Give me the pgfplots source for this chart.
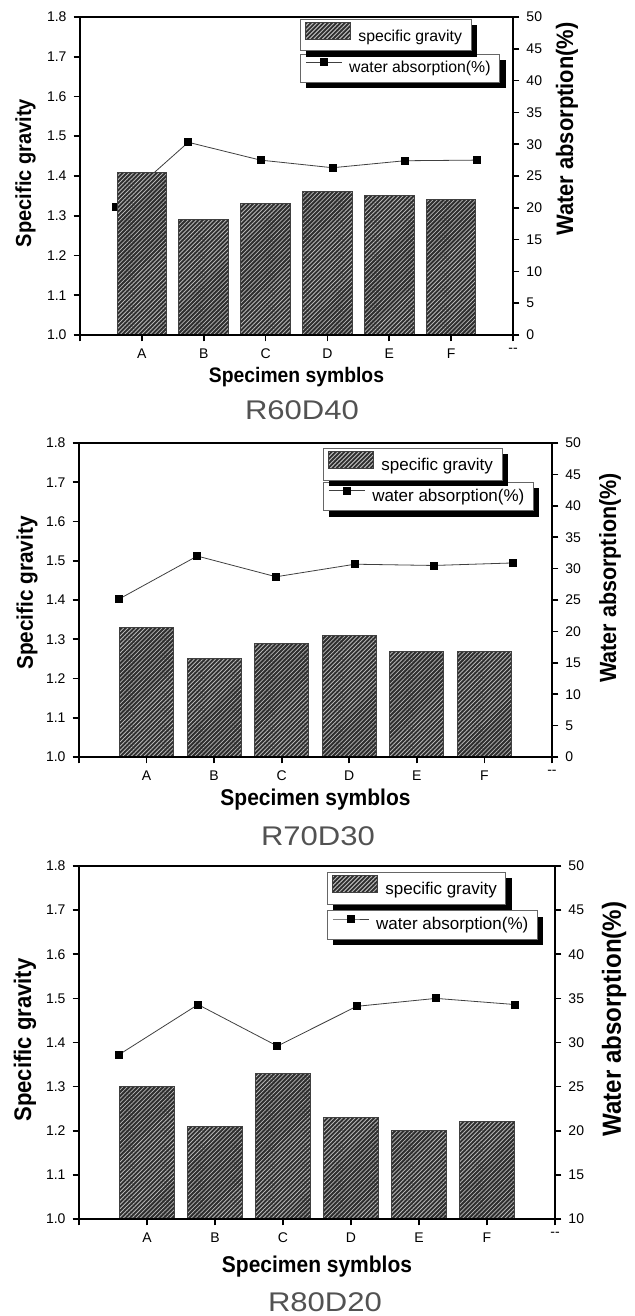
\documentclass[border=0pt]{standalone}
\usepackage{fontspec}
\setmainfont{Liberation Sans}
\newfontfamily\labelfont[FakeStretch=0.92]{Liberation Sans}
\newfontfamily\rfont[FakeStretch=1.15]{Liberation Sans}
\usepackage{pgfplots}
\pgfplotsset{compat=1.18}
\usepackage{pgfplotstable}
\usetikzlibrary{patterns.meta,shadows}

\definecolor{rlabel}{gray}{0.32}

% the legend's drop shadow must not be copied onto the legend images
\makeatletter
\tikzset{no preaction/.code={\let\tikz@preactions\pgfutil@empty}}
\makeatother

% idx = bar position, pos = where the absorption marker sits
\pgfplotstableread{
idx pos sg wa
0 -0.4167 1.41 20.2
1 0.7500 1.29 30.3
2 1.9167 1.33 27.5
3 3.0833 1.36 26.3
4 4.2500 1.35 27.4
5 5.4167 1.34 27.5
}\rsixty

\pgfplotstableread{
idx pos sg wa
0 -0.4167 1.33 25.1
1 0.7500 1.25 32.0
2 1.9167 1.29 28.7
3 3.0833 1.31 30.7
4 4.2500 1.27 30.5
5 5.4167 1.27 30.9
}\rseventy

\pgfplotstableread{
idx pos sg wa
0 -0.4167 1.30 28.6
1 0.7500 1.21 34.3
2 1.9167 1.33 29.6
3 3.0833 1.23 34.1
4 4.2500 1.20 35.0
5 5.4167 1.22 34.3
}\reighty

\tikzset{
  hatch/.style={draw=black!75, line width=0.5pt, fill=black!82,
    postaction={pattern color=white!72!black, pattern={Lines[angle=45,distance=1.5pt,line width=0.4pt]}}},
  axlabel/.style={font=\labelfont\bfseries\fontsize{#1}{14}\selectfont},
  panelname/.style={font=\rfont\fontsize{13.5}{16}\selectfont, text=rlabel},
}

\pgfplotsset{
  common/.style={scale only axis, xmin=-1, xmax=6, tick align=outside,
    major tick length=3.2pt,
    axis line style={line width=0.9pt},
    major tick style={line width=0.8pt, black},
    tick label style={font=\fontsize{7}{8}\selectfont},
    /pgf/number format/assume math mode=true,
    legend cell align=left,
    legend style={anchor=north west, draw=black!60, line width=0.4pt, fill=white,
      inner xsep=2.5pt, inner ysep=1.3pt,
      drop shadow={shadow xshift=3pt, shadow yshift=-3pt, fill=black, opacity=1},
      /tikz/every odd column/.append style={column sep=1.5pt}},
  },
  waaxis/.style={common, axis y line*=right, axis x line=none,
    legend image code/.code={\draw[no preaction, mark repeat=2, mark phase=2, ##1] plot coordinates {(0pt,2.9pt) (9pt,2.9pt) (18pt,2.9pt)};}},
  sgaxis/.style={common, axis on top, ymin=1.0, ymax=1.8,
    ytick={1,1.1,1.2,1.3,1.4,1.5,1.6,1.7,1.8},
    yticklabel style={/pgf/number format/.cd, fixed, fixed zerofill, precision=1},
    xtick={-1,0,1,2,3,4,5,6},
    xticklabels={,A,B,C,D,E,F,{-{}-}},
    xtick pos=bottom, ytick pos=left,
    legend image code/.code={\draw[no preaction, hatch] (0pt,-1.4pt) rectangle (22.5pt,7.2pt);}},
  waline/.style={line width=0.4pt, black!75, mark=square*, mark size=1.75pt,
    mark options={fill=black, draw=black}},
  sgbar/.style={ybar, bar width=0.8, hatch},
}

\begin{document}
\begin{tikzpicture}
\useasboundingbox (0,0) rectangle (317pt,-658pt);

% ---- R60D40
\begin{axis}[waaxis, at={(40pt,-167.5pt)}, anchor=south west, width=216.5pt, height=159pt,
  ymin=0, ymax=50, ytick={0,5,...,50},
  legend style={at={(0.508,0.884)}, font=\fontsize{7.9}{9}\selectfont}]
\addplot[waline] table[x=pos,y=wa]{\rsixty};
\addlegendentry{water absorption(\%)}
\end{axis}
\begin{axis}[sgaxis, at={(40pt,-167.5pt)}, anchor=south west, width=216.5pt, height=159pt,
  legend style={at={(0.508,0.994)}, font=\fontsize{7.9}{9}\selectfont}]
\addplot[sgbar] table[x=idx,y=sg]{\rsixty};
\addlegendentry{specific gravity}
\end{axis}
\node[axlabel=10.9, rotate=90] at (12.8pt,-86.5pt) {Specific gravity};
\node[axlabel=11.9, rotate=90] at (283.5pt,-64.5pt) {Water absorption(\%)};
\node[axlabel=10.5] at (148.25pt,-188.5pt) {Specimen symblos};
\node[panelname] at (151pt,-205pt) {R60D40};

% ---- R70D30
\begin{axis}[waaxis, at={(39.5pt,-378.5pt)}, anchor=south west, width=236.5pt, height=157pt,
  ymin=0, ymax=50, ytick={0,5,...,50},
  legend style={at={(0.516,0.876)}, font=\fontsize{8.5}{10}\selectfont}]
\addplot[waline] table[x=pos,y=wa]{\rseventy};
\addlegendentry{water absorption(\%)}
\end{axis}
\begin{axis}[sgaxis, at={(39.5pt,-378.5pt)}, anchor=south west, width=236.5pt, height=157pt,
  legend style={at={(0.516,0.984)}, font=\fontsize{8.5}{10}\selectfont}]
\addplot[sgbar] table[x=idx,y=sg]{\rseventy};
\addlegendentry{specific gravity}
\end{axis}
\node[axlabel=11.3, rotate=90] at (13.5pt,-296.5pt) {Specific gravity};
\node[axlabel=11.7, rotate=90] at (305pt,-289pt) {Water absorption(\%)};
\node[axlabel=11.4] at (157.75pt,-400pt) {Specimen symblos};
\node[panelname] at (159pt,-418pt) {R70D30};

% ---- R80D20
\begin{axis}[waaxis, at={(39.5pt,-609.5pt)}, anchor=south west, width=238pt, height=176.5pt,
  ymin=10, ymax=50, ytick={10,15,...,50},
  legend style={at={(0.521,0.875)}, font=\fontsize{8.5}{10}\selectfont}]
\addplot[waline] table[x=pos,y=wa]{\reighty};
\addlegendentry{water absorption(\%)}
\end{axis}
\begin{axis}[sgaxis, at={(39.5pt,-609.5pt)}, anchor=south west, width=238pt, height=176.5pt,
  legend style={at={(0.521,0.983)}, font=\fontsize{8.5}{10}\selectfont}]
\addplot[sgbar] table[x=idx,y=sg]{\reighty};
\addlegendentry{specific gravity}
\end{axis}
\node[axlabel=12, rotate=90] at (12.5pt,-520pt) {Specific gravity};
\node[axlabel=13.1, rotate=90] at (307pt,-509.5pt) {Water absorption(\%)};
\node[axlabel=11.4] at (158.5pt,-633.5pt) {Specimen symblos};
\node[panelname] at (162.5pt,-651pt) {R80D20};
\end{tikzpicture}
\end{document}
